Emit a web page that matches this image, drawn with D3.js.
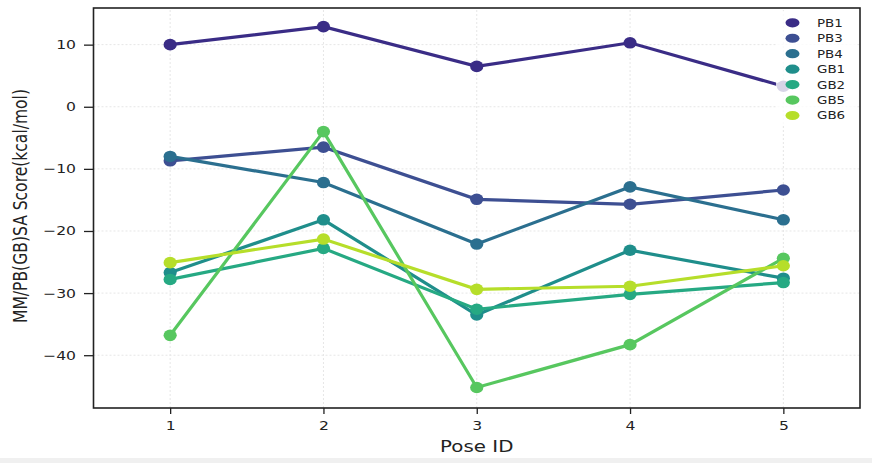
<!DOCTYPE html>
<html><head><meta charset="utf-8">
<script src="https://cdn.jsdelivr.net/npm/d3@7"></script>
<style>body{margin:0;background:#fff}svg{display:block}</style>
</head><body>
<script>
const poses = [1, 2, 3, 4, 5];
const seriesNames = ["PB1", "PB3", "PB4", "GB1", "GB2", "GB5", "GB6"];
const PB1 = [10.0, 12.9, 6.5, 10.3, 3.3];
const PB3 = [-8.7, -6.5, -14.9, -15.7, -13.4];
const PB4 = [-8.0, -12.2, -22.1, -12.9, -18.2];
const GB1 = [-26.7, -18.2, -33.5, -23.1, -27.6];
const GB2 = [-27.8, -22.8, -32.6, -30.2, -28.3];
const GB5 = [-36.8, -4.0, -45.2, -38.3, -24.4];
const GB6 = [-25.1, -21.3, -29.4, -28.9, -25.6];
const yTicks = [10, 0, -10, -20, -30, -40];
const colors = ["#3a2c86", "#3d4f92", "#2b6f8f", "#1f8e8b", "#26a983", "#57c75f", "#b6de2a"];
const allSeries = [PB1, PB3, PB4, GB1, GB2, GB5, GB6];

const W = 872, H = 463;
const SX = 1.25; // horizontal stretch of text
const m = {l: 93.5, r: 12, t: 8, b: 55};
const svg = d3.select("body").append("svg").attr("width", W).attr("height", H);
svg.append("rect").attr("x",0).attr("y",458).attr("width",W).attr("height",5).attr("fill","#f0f0f0");

const x = d3.scaleLinear().domain([0.5, 5.5]).range([m.l, W - m.r]);
const y = d3.scaleLinear().domain([-48.5, 15.9]).range([H - m.b, m.t]);

const g = svg.append("g");
g.selectAll(".gy").data(yTicks).enter().append("line")
  .attr("x1", x(0.5)).attr("x2", x(5.5)).attr("y1", d => y(d)).attr("y2", d => y(d))
  .attr("stroke", "#e6e6e6").attr("stroke-width", 1).attr("stroke-dasharray", "2,2");
g.selectAll(".gx").data(poses).enter().append("line")
  .attr("y1", y(-48.5)).attr("y2", y(15.9)).attr("x1", d => x(d)).attr("x2", d => x(d))
  .attr("stroke", "#e6e6e6").attr("stroke-width", 1).attr("stroke-dasharray", "2,2");

const line = d3.line().x((d, i) => x(poses[i])).y(d => y(d));
allSeries.forEach((s, k) => {
  g.append("path").datum(s).attr("d", line).attr("fill", "none")
    .attr("stroke", colors[k]).attr("stroke-width", 3.2);
  g.selectAll(null).data(s).enter().append("ellipse")
    .attr("cx", (d, i) => x(poses[i])).attr("cy", d => y(d)).attr("rx", 6.6).attr("ry", 5.8)
    .attr("fill", colors[k]);
});

const xAxis = d3.axisBottom(x).tickValues(poses).tickSize(6).tickPadding(7).tickFormat(d3.format("d"));
const yAxis = d3.axisLeft(y).tickValues(yTicks).tickSize(9.5).tickPadding(8)
  .tickFormat(d => d < 0 ? "\u2212" + Math.abs(d) : d);
const xa = svg.append("g").attr("transform", `translate(0,${H - m.b})`).call(xAxis);
const ya = svg.append("g").attr("transform", `translate(${m.l},0)`).call(yAxis);
[xa, ya].forEach(a => {
  a.select(".domain").remove();
  a.selectAll("line").attr("stroke", "#222").attr("stroke-width", 1.3);
  a.selectAll("text").attr("font-family", "DejaVu Sans").attr("font-size", 12.5).attr("fill", "#222")
    .each(function() {
      const tx = +d3.select(this).attr("x") || 0;
      d3.select(this).attr("transform", `translate(${tx},0) scale(${SX},1) translate(${-tx},0)`);
    });
});

svg.append("rect").attr("x", x(0.5)).attr("y", y(15.9)).attr("width", x(5.5) - x(0.5))
  .attr("height", y(-48.5) - y(15.9)).attr("fill", "none").attr("stroke", "#222").attr("stroke-width", 1.6);

svg.append("text").attr("transform", `translate(${x(3)},451.5) scale(1.24,1)`).attr("text-anchor", "middle")
  .attr("font-family", "DejaVu Sans").attr("font-size", 16).attr("fill", "#222").text("Pose ID");
svg.append("text").attr("transform", `translate(26.5,206) scale(${SX},1) rotate(-90)`).attr("text-anchor", "middle")
  .attr("font-family", "DejaVu Sans").attr("font-size", 15.5).attr("fill", "#222")
  .attr("textLength", 234).attr("lengthAdjust", "spacingAndGlyphs")
  .text("MM/PB(GB)SA Score(kcal/mol)");

const lg = svg.append("g");
lg.append("rect").attr("x", 776).attr("y", 11).attr("width", 80).attr("height", 114)
  .attr("fill", "#fff").attr("opacity", 0.8);
seriesNames.forEach((n, i) => {
  const ly = 22.8 + i * 15.45;
  lg.append("ellipse").attr("cx", 792.5).attr("cy", ly).attr("rx", 7).attr("ry", 4.6).attr("fill", colors[i]);
  lg.append("text").attr("transform", `translate(817,${ly + 3.9}) scale(1.28,1)`).attr("font-family", "DejaVu Sans")
    .attr("font-size", 10.5).attr("fill", "#222").text(n);
});
</script>
</body></html>
